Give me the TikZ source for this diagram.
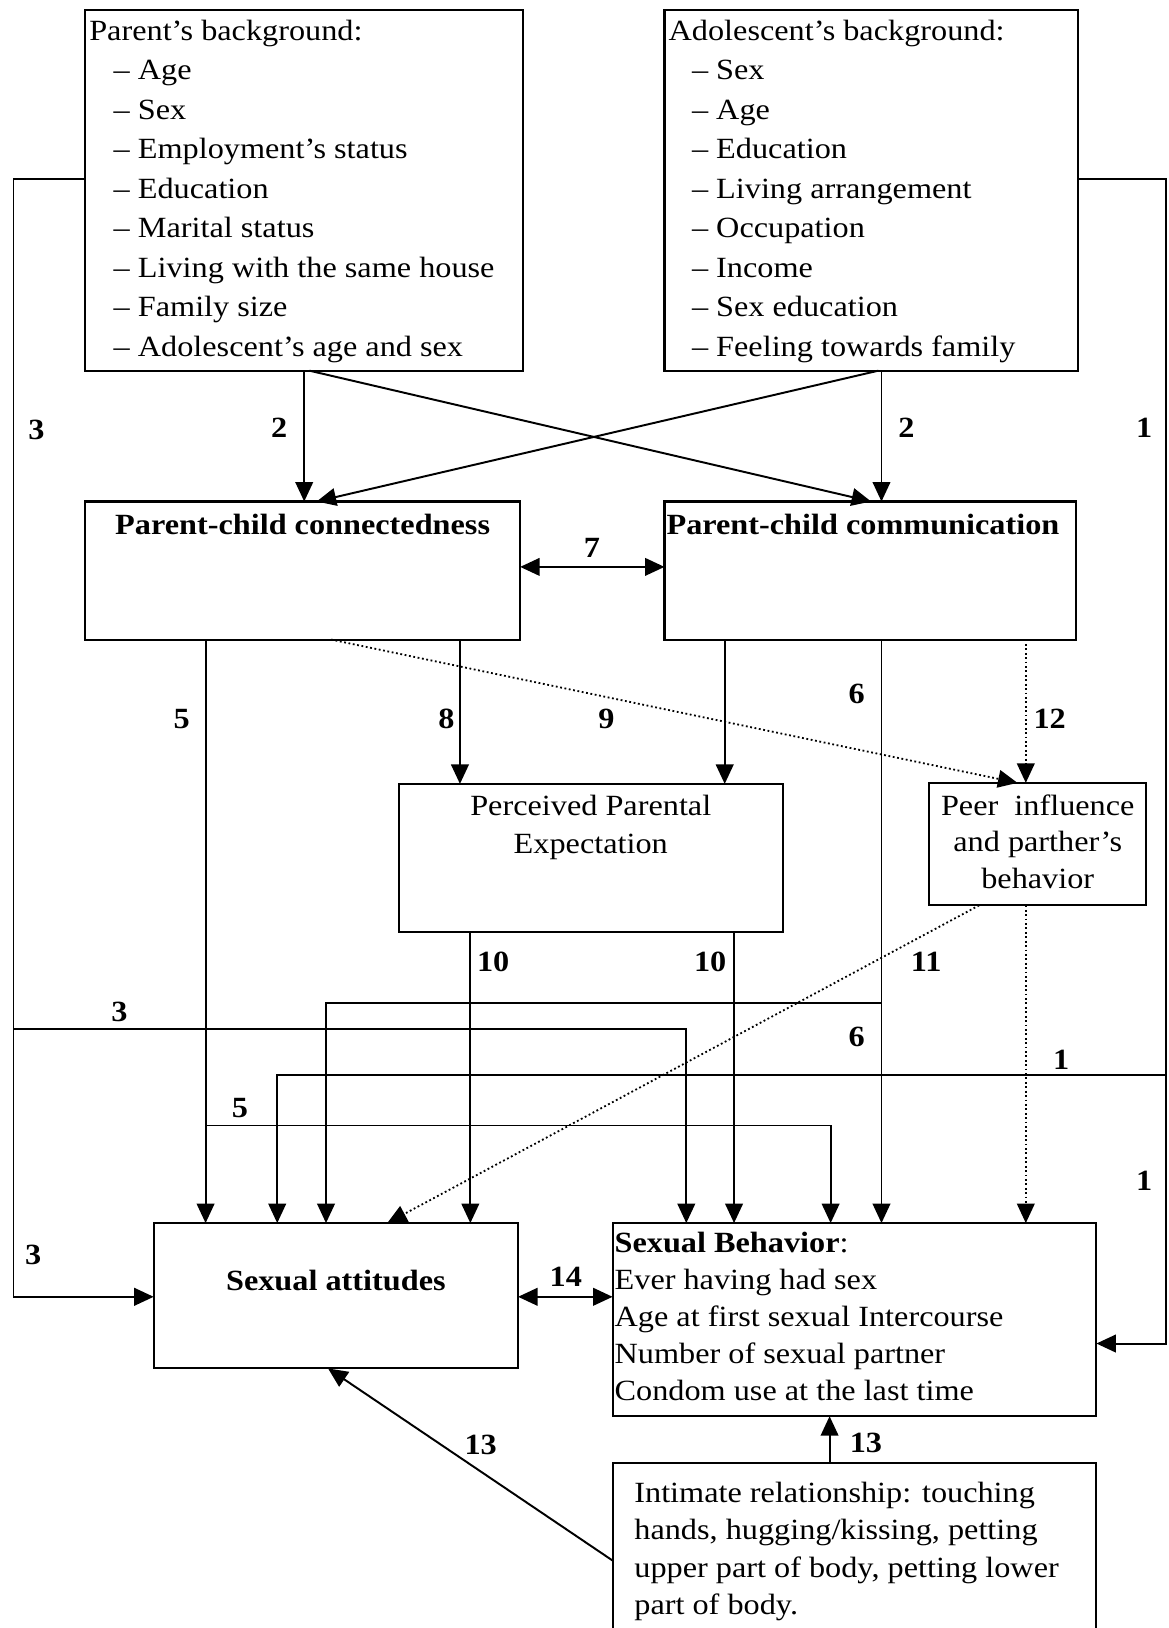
\documentclass[tikz,border=0pt]{standalone}
\usepackage{fontspec}
\setmainfont{Liberation Serif}[FakeStretch=1.1]
\usetikzlibrary{arrows.meta}
\newcommand\txtfont{\fontsize{11.3}{15.2}\selectfont}
\newcommand\lstrut{\rule{0pt}{8pt}}
\begin{document}
\begin{tikzpicture}[x=0.4pt, y=-0.4pt,
  box/.style={draw, line width=0.8pt, inner sep=0pt, outer sep=0pt},
  txt/.style={inner sep=0pt, outer sep=0pt, font=\txtfont},
  num/.style={inner sep=0pt, font=\txtfont\bfseries},
  wire/.style={line width=0.75pt},
  tip/.style={Triangle[length=7.5pt,width=6.8pt]},
  arr/.style={wire, -{Triangle[length=7.5pt,width=6.8pt]}},
  darr/.style={wire, {Triangle[length=7.5pt,width=6.8pt]}-{Triangle[length=7.5pt,width=6.8pt]}},
  dotarr/.style={line width=0.7pt, densely dotted, -{Triangle[length=7.5pt,width=6.8pt]}},
]
\useasboundingbox[fill=white] (0,0) rectangle (1125,1568);

% ---- boxes ----
\node[box, minimum width=168.8pt, minimum height=138.8pt] (pb)   at (293,183.5) {};
\node[box, minimum width=159.2pt, minimum height=138.8pt] (ab)   at (839,183.5) {};
\node[box, minimum width=167.6pt, minimum height=53.2pt]  (pcc)  at (291.5,549.5) {};
\node[box, minimum width=158.4pt, minimum height=53.2pt]  (pcm)  at (838,549.5) {};
\node[box, minimum width=148pt,   minimum height=57.2pt]  (pe)   at (569,826.5) {};
\node[box, minimum width=83.6pt,  minimum height=47.2pt]  (peer) at (999.5,813) {};
\node[box, minimum width=140.4pt, minimum height=56pt]    (sa)   at (323.5,1248) {};
\node[box, minimum width=186.4pt, minimum height=74.4pt]  (sb)   at (823,1271) {};
\node[box, minimum width=186.4pt, minimum height=76.4pt]  (ir)   at (823,1504.5) {};

% ---- box texts ----
\node[txt, anchor=north west, align=left] (pbt) at (86,19) {\lstrut Parent's background:\\
  \hspace*{9.4pt}– Age\\
  \hspace*{9.4pt}– Sex\\
  \hspace*{9.4pt}– Employment's status\\
  \hspace*{9.4pt}– Education\\
  \hspace*{9.4pt}– Marital status\\
  \hspace*{9.4pt}– Living with the same house\\
  \hspace*{9.4pt}– Family size\\
  \hspace*{9.4pt}– Adolescent's age and sex};
\node[txt, anchor=north west, align=left] (abt) at (644,19) {\lstrut Adolescent's background:\\
  \hspace*{9pt}– Sex\\
  \hspace*{9pt}– Age\\
  \hspace*{9pt}– Education\\
  \hspace*{9pt}– Living arrangement\\
  \hspace*{9pt}– Occupation\\
  \hspace*{9pt}– Income\\
  \hspace*{9pt}– Sex education\\
  \hspace*{9pt}– Feeling towards family};
\node[txt, font=\txtfont\bfseries, anchor=base] (pcct) at (291.5,515) {Parent-child connectedness};
\node[txt, font=\txtfont\bfseries, anchor=base west] (pcmt) at (642,515) {Parent-child communication};
\node[txt, font=\fontsize{11.3}{14.8}\selectfont, anchor=north, align=center] (pet) at (569,765)
  {\lstrut Perceived Parental\\Expectation};
\node[txt, font=\fontsize{11.3}{14.2}\selectfont, anchor=north, align=center] (peert) at (999.5,765)
  {\lstrut Peer\ \ influence\\and parther's\\behavior};
\node[txt, font=\txtfont\bfseries, anchor=base] (sat) at (323.5,1243) {Sexual attitudes};
\node[txt, font=\fontsize{11.3}{14.2}\selectfont, anchor=north west, align=left] (sbt) at (592,1186.6)
  {\lstrut\textbf{Sexual Behavior}:\\Ever having had sex\\Age at first sexual Intercourse\\Number of sexual partner\\Condom use at the last time};
\node[txt, font=\fontsize{11.3}{14.4}\selectfont, anchor=north west, align=left] (irt) at (611,1427)
  {\lstrut Intimate relationship: touching\\hands, hugging/kissing, petting\\upper part of body, petting lower\\part of body.};

% ---- rails ----
\coordinate (railL) at (13,172);
\coordinate (railR) at (1123,172);

% path 3 (parent background)
\draw[arr] (pb.west |- railL) -- (railL) -- (13,1249) -- (sa.west |- 0,1249);
\draw[arr] (13,991) -- (661,991) -- (sb.north -| 661,0);
% path 1 (adolescent background)
\draw[arr] (ab.east |- railR) -- (railR) -- (1123,1294) -- (sb.east |- 0,1294);
\draw[arr] (1123,1035) -- (267,1035) -- (sa.north -| 267,0);
% path 2
\draw[arr] (pb.south -| 293,0) -- (pcc.north -| 293,0);
\draw[arr] (pb.south -| 298,0) -- (pcm.north -| 839,0);
\draw[arr] (ab.south -| 849,0) -- (pcm.north -| 849,0);
\draw[arr] (ab.south -| 846,0) -- (pcc.north -| 305,0);
% path 7
\draw[darr] (pcc.east |- 0,546) -- (pcm.west |- 0,546);
% path 5
\draw[arr] (pcc.south -| 198,0) -- (sa.north -| 198,0);
\draw[arr] (198,1084) -- (800,1084) -- (sb.north -| 800,0);
% path 8 and communication to expectation
\draw[arr] (pcc.south -| 443,0) -- (pe.north -| 443,0);
\draw[arr] (pcm.south -| 698,0) -- (pe.north -| 698,0);
% path 9
\draw[dotarr] (pcc.south -| 319,0) -- (peer.north -| 980,0);
% path 6
\draw[arr] (pcm.south -| 849,0) -- (sb.north -| 849,0);
\draw[arr] (849,966) -- (314,966) -- (sa.north -| 314,0);
% path 12
\draw[dotarr] (pcm.south -| 988,0) -- (peer.north -| 988,0);
\draw[dotarr] (peer.south -| 988,0) -- (sb.north -| 988,0);
% path 10
\draw[arr] (pe.south -| 453,0) -- (sa.north -| 453,0);
\draw[arr] (pe.south -| 707,0) -- (sb.north -| 707,0);
% path 11
\draw[dotarr] (peer.south -| 943,0) -- (sa.north -| 373,0);
% path 14
\draw[darr] (sa.east |- 0,1249) -- (sb.west |- 0,1249);
% path 13
\draw[arr] (ir.north -| 799,0) -- (sb.south -| 799,0);
\draw[arr] (ir.west |- 0,1503) -- (sa.south -| 316,0);

% ---- path numbers ----
\node[num] (n3a) at (35,414) {3};
\node[num] (n3b) at (115,975) {3};
\node[num] (n3c) at (32,1209) {3};
\node[num] (n2a) at (269,412) {2};
\node[num] (n2b) at (873,412) {2};
\node[num] (n1a) at (1102,412) {1};
\node[num] (n1b) at (1022,1021) {1};
\node[num] (n1c) at (1102,1137) {1};
\node[num] (n7)  at (570,528) {7};
\node[num] (n5a) at (175,693) {5};
\node[num] (n5b) at (231,1067) {5};
\node[num] (n8)  at (430,692) {8};
\node[num] (n9)  at (584,692) {9};
\node[num] (n6a) at (825,668) {6};
\node[num] (n6b) at (825,999) {6};
\node[num] (n12) at (1011,692) {12};
\node[num] (n10a) at (475,926) {10};
\node[num] (n10b) at (684,926) {10};
\node[num] (n11) at (892,926) {11};
\node[num] (n14) at (545,1230) {14};
\node[num] (n13a) at (463,1392) {13};
\node[num] (n13b) at (834,1390) {13};
\end{tikzpicture}
\end{document}
